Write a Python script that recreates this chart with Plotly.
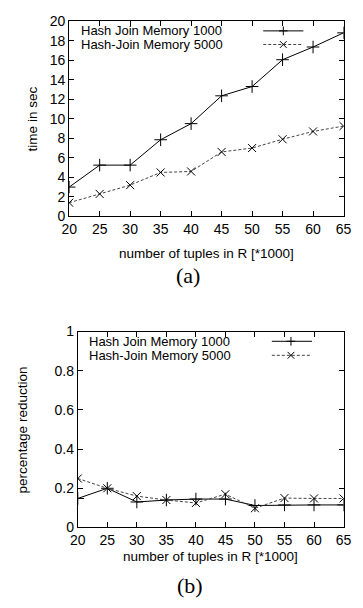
import plotly.graph_objects as go

W, H = 363, 608

tuples = [20, 25, 30, 35, 40, 45, 50, 55, 60, 65]
series_names = ["Hash Join Memory 1000", "Hash-Join Memory 5000"]
time_1000 = [3.0, 5.25, 5.25, 7.85, 9.5, 12.35, 13.3, 16.05, 17.35, 18.8]
time_5000 = [1.4, 2.3, 3.2, 4.5, 4.6, 6.6, 7.0, 7.9, 8.7, 9.25]
red_1000 = [0.148, 0.2, 0.13, 0.14, 0.145, 0.145, 0.112, 0.115, 0.115, 0.115]
red_5000 = [0.25, 0.2, 0.16, 0.14, 0.125, 0.17, 0.098, 0.15, 0.148, 0.148]
x_ticks = [20, 25, 30, 35, 40, 45, 50, 55, 60, 65]
y_ticks_a = [0, 2, 4, 6, 8, 10, 12, 14, 16, 18, 20]
y_ticks_b = [0, 0.2, 0.4, 0.6, 0.8, 1]

FONT = "Liberation Sans, Arial, sans-serif"
SERIF = "Liberation Serif, Times New Roman, serif"

def px(x):
    return x / W

def py(y):
    return 1 - y / H

styles = [
    dict(line=dict(color="black", width=1),
         marker=dict(symbol="cross-thin", size=9, line=dict(color="black", width=1))),
    dict(line=dict(color="#444444", width=1, dash="3px,2px"),
         marker=dict(symbol="x-thin", size=8, line=dict(color="black", width=1))),
]

fig = go.Figure()
for name, ys, st in zip(series_names, [time_1000, time_5000], styles):
    fig.add_trace(go.Scatter(x=tuples, y=ys, mode="lines+markers", name=name,
                             xaxis="x", yaxis="y", showlegend=False, **st))
for name, ys, st in zip(series_names, [red_1000, red_5000], styles):
    fig.add_trace(go.Scatter(x=tuples, y=ys, mode="lines+markers", name=name,
                             xaxis="x2", yaxis="y2", showlegend=False, **st))

axis_common = dict(showline=True, linecolor="black", linewidth=1, mirror="ticks",
                   ticks="inside", ticklen=5, tickcolor="black", showgrid=False,
                   zeroline=False, tickfont=dict(family=FONT, size=14, color="black"))

fig.update_layout(
    width=W, height=H, margin=dict(l=0, r=0, t=0, b=0),
    paper_bgcolor="white", plot_bgcolor="white", showlegend=False,
    xaxis=dict(domain=[px(64), px(351)], range=[20, 65], tickvals=x_ticks,
               anchor="y", **axis_common),
    yaxis=dict(domain=[py(214), py(13.5)], range=[0, 20], tickvals=y_ticks_a,
               anchor="x", **axis_common),
    xaxis2=dict(domain=[px(73), px(351)], range=[20, 65], tickvals=x_ticks,
                anchor="y2", **axis_common),
    yaxis2=dict(domain=[py(533.5), py(332.3)], range=[0, 1], tickvals=y_ticks_b,
                anchor="x2", **axis_common),
)

ann = []

def text(t, x, y, size=13.5, family=FONT, angle=0, xanchor="center"):
    ann.append(dict(text=t, x=px(x), y=py(y), xref="paper", yref="paper",
                    xanchor=xanchor, yanchor="middle", textangle=angle, showarrow=False,
                    font=dict(family=family, size=size, color="black")))

text("time in sec", 25.5, 114, angle=-90)
text("number of tuples in R [*1000]", 208, 252)
text("(a)", 188, 275, size=22, family=SERIF)
text("percentage reduction", 15.5, 433, angle=-90)
text("number of tuples in R [*1000]", 212, 563)
text("(b)", 190, 593, size=22, family=SERIF)

shapes = []

def line(x0, y0, x1, y1, color="black", dash="solid"):
    shapes.append(dict(type="line", xref="paper", yref="paper",
                       x0=px(x0), x1=px(x1), y0=py(y0), y1=py(y1),
                       line=dict(color=color, width=1, dash=dash)))

def legend(x_text, rows_y, x0, x1, xm):
    for i, (name, ry) in enumerate(zip(series_names, rows_y)):
        text(name, x_text, ry, size=13, xanchor="left")
        st = styles[i]
        line(x0, ry, x1, ry, st["line"]["color"], st["line"].get("dash", "solid"))
        if i == 0:
            s = 4.5
            line(xm - s, ry, xm + s, ry)
            line(xm, ry - s, xm, ry + s)
        else:
            s = 3.5
            line(xm - s, ry - s, xm + s, ry + s)
            line(xm - s, ry + s, xm + s, ry - s)

legend(74, [23.5, 37.5], 267, 309, 288)
legend(82.7, [342.3, 356.7], 276, 318, 296)

fig.update_layout(annotations=ann, shapes=shapes)
fig.write_html(
    "out.html", config={"displayModeBar": False},
    post_script=("document.body.style.margin='0';document.body.style.overflow='hidden';"
                 "var d=document.getElementById('{plot_id}');"
                 "d.style.position='fixed';d.style.left='0';d.style.top='0';"))
